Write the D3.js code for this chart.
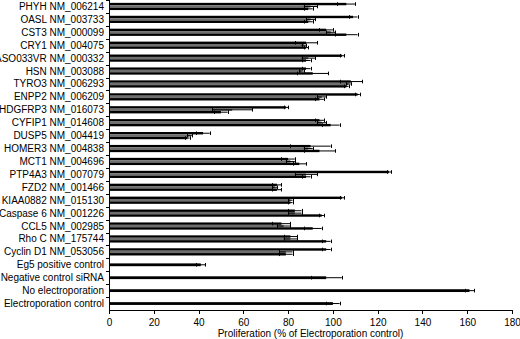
<!DOCTYPE html>
<html>
<head>
<meta charset="utf-8">
<script src="https://d3js.org/d3.v7.min.js"></script>
<style>
  body { margin: 0; background: #fff; }
  svg { font-family: "Liberation Sans", Arial, sans-serif; }
  .axis path, .axis line { stroke: #000; shape-rendering: crispEdges; }
  .axis text { font-size: 10px; fill: #000; }
</style>
</head>
<body>
<div id="chart"></div>
<script>
// gene rows (top to bottom), three siRNA series each
var genes = ["PHYH NM_006214", "OASL NM_003733", "CST3 NM_000099", "CRY1 NM_004075",
  "ASO033VR NM_000332", "HSN NM_003088", "TYRO3 NM_006293", "ENPP2 NM_006209",
  "HDGFRP3 NM_016073", "CYFIP1 NM_014608", "DUSP5 NM_004419", "HOMER3 NM_004838",
  "MCT1 NM_004696", "PTP4A3 NM_007079", "FZD2 NM_001466", "KIAA0882 NM_015130",
  "Caspase 6 NM_001226", "CCL5 NM_002985", "Rho C NM_175744", "Cyclin D1 NM_053056"];
var series1 = [106, 109, 97, 88, 104, 88, 108, 111, 79, 94, 42, 90, 80, 125, 75, 104, 83, 77, 81, 97];
var err1    = [4, 2, 3, 5, 1, 2, 5, 1, 1, 2, 3, 9, 3, 1, 2, 1, 3, 4, 3, 2];
var series2 = [90, 90, 99, 87, 89, 86, 107, 95, 55, 95, 36, 89, 81, 88, 74, 81, 83, 78, 81, 79];
var err2    = [3, 2, 2, 1, 3, 1, 1, 2, 9, 2, 1, 2, 2, 5, 1, 1, 3, 3, 3, 3];
var series3 = [89, 89, 106, 88, 88, 91, 106, 94, 50, 99, 35, 94, 85, 88, 75, 81, 95, 91, 97, 79];
var err3    = [2, 2, 5, 1, 2, 7, 1, 2, 3, 4, 1, 7, 3, 2, 2, 1, 1, 4, 2, 3];

// control rows, single bar each
var controls = ["Eg5 positive control", "Negative control siRNA", "No electroporation", "Electroporation control"];
var controlValues = [41, 97, 161, 100];
var controlErr    = [2, 7, 2, 3];

var xTicks = [0, 20, 40, 60, 80, 100, 120, 140, 160, 180];
var seriesColors = ["#000", "#6e6e6e", "#000"];

var width = 520, height = 339;
var margin = {left: 109, right: 8, top: 0, bottom: 29};

var svg = d3.select("#chart").append("svg")
  .attr("width", width)
  .attr("height", height);

var x = d3.scaleLinear()
  .domain([0, 180])
  .range([margin.left, width - margin.right]);

var allCats = genes.concat(controls);
var y = d3.scaleBand()
  .domain(allCats)
  .range([margin.top, height - margin.bottom]);

var sub = d3.scaleBand()
  .domain([0, 1, 2])
  .range([y.bandwidth() / 2 - 3.6, y.bandwidth() / 2 + 3.6]);

// build rows from the arrays
var rows = [];
genes.forEach(function(g, i) {
  rows.push({cat: g, s: 0, v: series1[i], e: err1[i]});
  rows.push({cat: g, s: 1, v: series2[i], e: err2[i]});
  rows.push({cat: g, s: 2, v: series3[i], e: err3[i]});
});
controls.forEach(function(c, i) {
  rows.push({cat: c, s: 1, v: controlValues[i], e: controlErr[i], ctrl: true});
});

function barY(d) { return y(d.cat) + sub(d.s); }

svg.append("g").selectAll("rect")
  .data(rows)
  .enter().append("rect")
  .attr("x", x(0))
  .attr("y", function(d) { return d.ctrl ? y(d.cat) + y.bandwidth() / 2 - 1.4 : barY(d); })
  .attr("width", function(d) { return x(d.v) - x(0); })
  .attr("height", function(d) { return d.ctrl ? 2.8 : sub.bandwidth(); })
  .attr("fill", function(d) { return d.ctrl ? "#000" : seriesColors[d.s]; });

// error bars
var eb = svg.append("g").attr("stroke", "#000").attr("stroke-width", 1);
rows.forEach(function(d) {
  var cy = d.ctrl ? y(d.cat) + y.bandwidth() / 2 : barY(d) + sub.bandwidth() / 2;
  eb.append("line")
    .attr("x1", x(d.v - d.e)).attr("x2", x(d.v + d.e))
    .attr("y1", cy).attr("y2", cy);
  [d.v - d.e, d.v + d.e].forEach(function(t) {
    eb.append("line")
      .attr("x1", Math.round(x(t)) + 0.5).attr("x2", Math.round(x(t)) + 0.5)
      .attr("y1", cy - 1.8).attr("y2", cy + 1.8);
  });
});

// x axis
svg.append("g")
  .attr("class", "axis")
  .attr("transform", "translate(0," + (height - margin.bottom) + ")")
  .call(d3.axisBottom(x).tickValues(xTicks).tickSize(4).tickPadding(5));

// y axis: ticks at band boundaries, labels centred
var yAxis = svg.append("g")
  .attr("class", "axis")
  .attr("transform", "translate(" + margin.left + ",0)");
yAxis.append("line")
  .attr("x1", 0.5).attr("x2", 0.5)
  .attr("y1", margin.top).attr("y2", height - margin.bottom);
yAxis.selectAll("line.tk")
  .data(allCats)
  .enter().append("line")
  .attr("class", "tk")
  .attr("x1", -3).attr("x2", 0.5)
  .attr("y1", function(d) { return Math.round(y(d)) + 0.5; })
  .attr("y2", function(d) { return Math.round(y(d)) + 0.5; });
yAxis.selectAll("text")
  .data(allCats)
  .enter().append("text")
  .attr("x", -5)
  .attr("y", function(d) { return y(d) + y.bandwidth() / 2; })
  .attr("dy", "0.35em")
  .attr("text-anchor", "end")
  .text(function(d) { return d; });

// axis title
svg.append("text")
  .attr("x", (x(0) + x(180)) / 2)
  .attr("y", 337)
  .attr("text-anchor", "middle")
  .attr("font-size", "10px")
  .text("Proliferation (% of Electroporation control)");
</script>
</body>
</html>
